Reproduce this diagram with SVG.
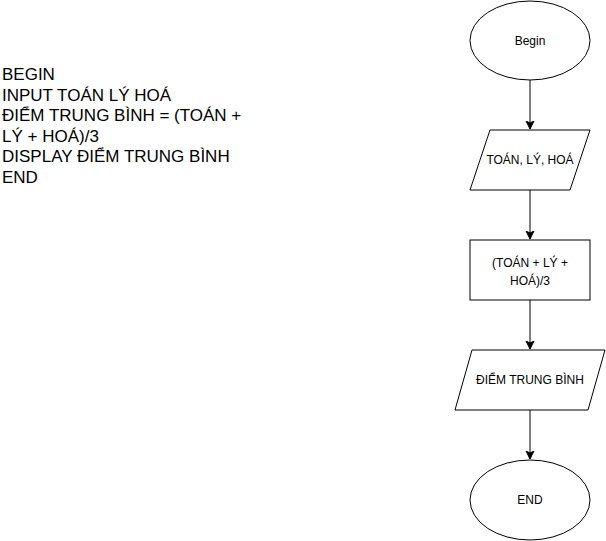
<svg xmlns="http://www.w3.org/2000/svg" width="606" height="541" viewBox="0 0 606 541">
<defs>
<marker id="arr" markerWidth="10" markerHeight="10" refX="8" refY="5" orient="auto" markerUnits="userSpaceOnUse">
<path d="M0,1 L8,5 L0,9 L2,5 Z" fill="#000" stroke="#000" stroke-width="1"/>
</marker>
</defs>
<style>
.sh{fill:#fff;stroke:#000;stroke-width:1}
.t{font-family:"Liberation Sans",Arial,sans-serif;font-size:12px;fill:#000;text-anchor:middle}
.p{font-family:"Liberation Sans",Arial,sans-serif;font-size:17px;fill:#000}
.c{stroke:#000;stroke-width:1;fill:none;marker-end:url(#arr)}
</style>
<rect width="606" height="541" fill="#fff"/>
<g id="pseudocode">
<text class="p" x="2" y="80">BEGIN</text>
<text class="p" x="2" y="100.5">INPUT TOÁN LÝ HOÁ</text>
<text class="p" x="2" y="121">ĐIỂM TRUNG BÌNH = (TOÁN +</text>
<text class="p" x="2" y="141.5">LÝ + HOÁ)/3</text>
<text class="p" x="2" y="162">DISPLAY ĐIỂM TRUNG BÌNH</text>
<text class="p" x="2" y="182.5">END</text>
</g>
<g id="connectors">
<line class="c" x1="530" y1="80" x2="530" y2="129"/>
<line class="c" x1="530" y1="190" x2="530" y2="239"/>
<line class="c" x1="530" y1="300" x2="530" y2="349"/>
<line class="c" x1="530" y1="410" x2="530" y2="459"/>
</g>
<g id="begin">
<ellipse class="sh" cx="530" cy="40.5" rx="60" ry="39.5"/>
<text class="t" x="530" y="45">Begin</text>
</g>
<g id="input">
<polygon class="sh" points="490,130 590,130 570,190 470,190"/>
<text class="t" x="530" y="164">TOÁN, LÝ, HOÁ</text>
</g>
<g id="process">
<rect class="sh" x="470" y="240" width="120" height="60"/>
<text class="t" x="530" y="267">(TOÁN + LÝ +</text>
<text class="t" x="530" y="285">HOÁ)/3</text>
</g>
<g id="output">
<polygon class="sh" points="472,350 605,350 588,410 455,410"/>
<text class="t" x="530" y="384">ĐIỂM TRUNG BÌNH</text>
</g>
<g id="end">
<ellipse class="sh" cx="530" cy="500" rx="60" ry="40"/>
<text class="t" x="530" y="504">END</text>
</g>
</svg>
